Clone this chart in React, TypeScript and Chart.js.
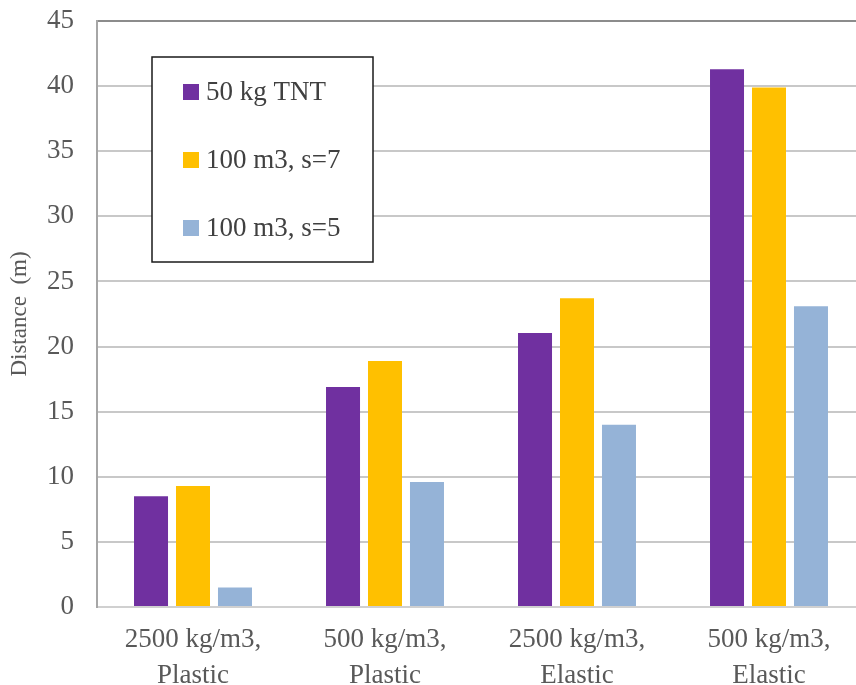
import React, { useEffect, useRef } from "react";
import { Chart, registerables } from "chart.js";

Chart.register(...registerables);

// Scenario labels (two lines each)
const categories: string[][] = [
  ["2500 kg/m3,", "Plastic"],
  ["500 kg/m3,", "Plastic"],
  ["2500 kg/m3,", "Elastic"],
  ["500 kg/m3,", "Elastic"],
];

const seriesNames = ["50 kg TNT", "100 m3, s=7", "100 m3, s=5"];
const tnt50 = [8.5, 16.9, 21.05, 41.3];
const vol100s7 = [9.3, 18.9, 23.7, 39.9];
const vol100s5 = [1.5, 9.6, 14.0, 23.1];
const seriesColors = ["#7030A0", "#FFC000", "#95B3D7"];

const yTitle = "Distance  (m)";
const yMin = 0;
const yMax = 45;
const yStep = 5;

const FONT = '"Liberation Serif", "Times New Roman", serif';

// Framed legend drawn inside the plot area
const boxLegend = {
  id: "boxLegend",
  afterDatasetsDraw(chart: any) {
    const ctx = chart.ctx as CanvasRenderingContext2D;
    const x0 = 152;
    const y0 = 57;
    const w = 221;
    const h = 205;
    ctx.save();
    ctx.fillStyle = "#ffffff";
    ctx.fillRect(x0, y0, w, h);
    ctx.strokeStyle = "#1a1a1a";
    ctx.lineWidth = 1.5;
    ctx.strokeRect(x0, y0, w, h);
    ctx.font = `27px ${FONT}`;
    ctx.textBaseline = "middle";
    ctx.textAlign = "left";
    chart.data.datasets.forEach((ds: any, i: number) => {
      const cy = y0 + 35 + i * 68;
      ctx.fillStyle = ds.backgroundColor;
      ctx.fillRect(x0 + 31, cy - 8, 16, 16);
      ctx.fillStyle = "#404040";
      ctx.fillText(ds.label, x0 + 54, cy + 1);
    });
    ctx.restore();
  },
};

export default function App() {
  const canvasRef = useRef<HTMLCanvasElement | null>(null);

  useEffect(() => {
    if (!canvasRef.current) return;
    const chart = new Chart(canvasRef.current, {
      type: "bar",
      data: {
        labels: categories,
        datasets: [tnt50, vol100s7, vol100s5].map((values, i) => ({
          label: seriesNames[i],
          data: values,
          backgroundColor: seriesColors[i],
          borderWidth: 0,
          categoryPercentage: 0.656,
          barPercentage: 0.81,
        })),
      },
      options: {
        responsive: false,
        animation: false,
        devicePixelRatio: 1,
        layout: { padding: { top: 21, right: 0, bottom: 0, left: 0 } },
        plugins: {
          legend: { display: false },
          tooltip: { enabled: false },
        },
        scales: {
          x: {
            grid: { display: false, drawTicks: false },
            border: { display: true, color: "#d0d0d0", width: 2 },
            ticks: {
              color: "#595959",
              font: { family: FONT, size: 27, lineHeight: 1.33 },
              padding: 15,
              maxRotation: 0,
              autoSkip: false,
            },
            afterFit(scale: any) {
              scale.height = 78;
            },
          },
          y: {
            min: yMin,
            max: yMax,
            grid: {
              drawTicks: true,
              tickLength: 20,
              tickColor: "rgba(0,0,0,0)",
              lineWidth: 2,
              color: (c: any) => (c.tick && c.tick.value === yMax ? "#8c8c8c" : "#c8c8c8"),
            },
            border: { display: true, color: "#a6a6a6", width: 2 },
            ticks: {
              stepSize: yStep,
              color: "#595959",
              font: { family: FONT, size: 27 },
              padding: 3,
            },
            title: {
              display: true,
              text: yTitle,
              color: "#595959",
              font: { family: FONT, size: 23 },
              padding: { top: 6, bottom: 0 },
            },
            afterFit(scale: any) {
              scale.width = 97;
            },
          },
        },
      },
      plugins: [boxLegend],
    });
    return () => chart.destroy();
  }, []);

  return (
    <div
      style={{
        position: "fixed",
        left: 0,
        top: 0,
        width: 856,
        height: 685,
        overflow: "hidden",
        background: "#ffffff",
      }}
    >
      <canvas ref={canvasRef} width={865} height={685} style={{ display: "block" }} />
    </div>
  );
}
